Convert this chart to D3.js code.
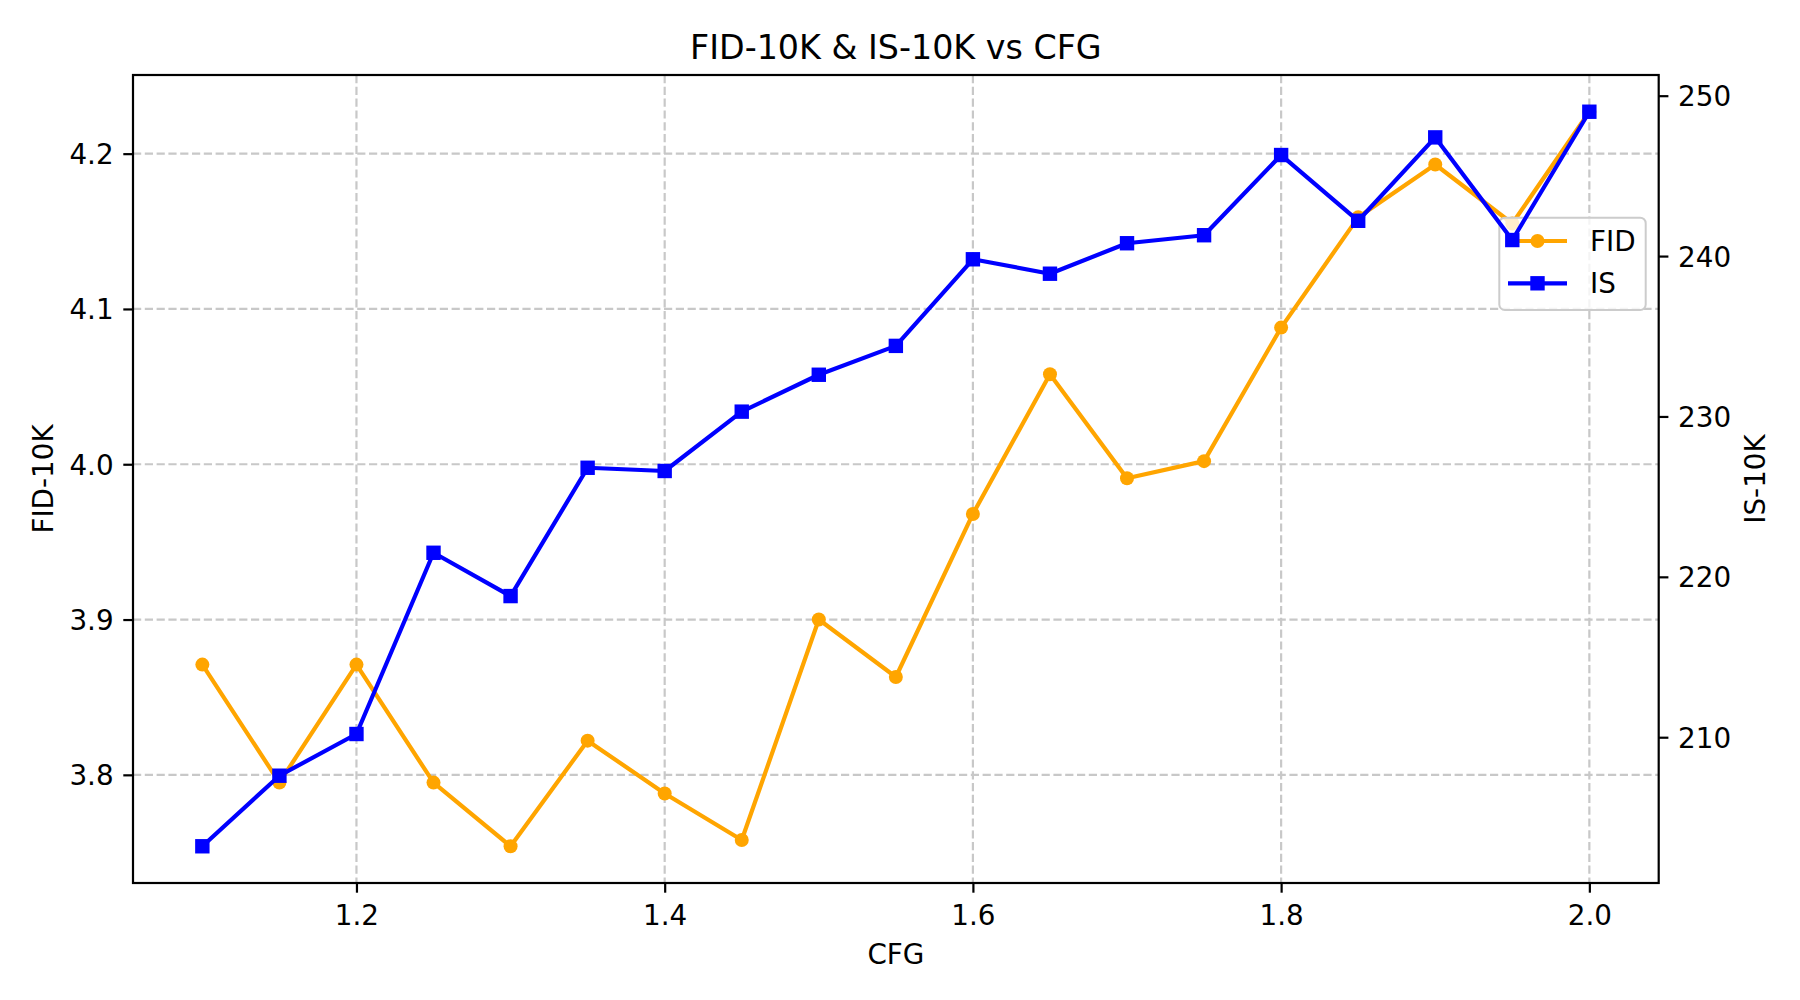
<!DOCTYPE html>
<html>
<head>
<meta charset="utf-8">
<script src="https://cdn.jsdelivr.net/npm/d3@7"></script>
<style>
  html, body { margin: 0; padding: 0; background: #fff; }
  svg { display: block; font-family: "DejaVu Sans", sans-serif; }
</style>
</head>
<body>
<svg id="chart" width="1800" height="1000"></svg>
<script>
// ---- data ----
const cfg = [1.1, 1.15, 1.2, 1.25, 1.3, 1.35, 1.4, 1.45, 1.5, 1.55, 1.6, 1.65, 1.7, 1.75, 1.8, 1.85, 1.9, 1.95, 2.0];
const fid = [3.871, 3.795, 3.871, 3.795, 3.754, 3.822, 3.788, 3.758, 3.900, 3.863, 3.968, 4.058, 3.991, 4.002, 4.088, 4.159, 4.193, 4.155, 4.227];
const isScore = [203.2, 207.6, 210.2, 221.5, 218.8, 226.8, 226.6, 230.3, 232.6, 234.4, 239.8, 238.9, 240.8, 241.3, 246.3, 242.2, 247.4, 241.0, 249.0];
const xTicks = [1.2, 1.4, 1.6, 1.8, 2.0];
const fidTicks = [3.8, 3.9, 4.0, 4.1, 4.2];
const isTicks = [210, 220, 230, 240, 250];
const seriesNames = ["FID", "IS"];
const titleText = "FID-10K & IS-10K vs CFG";
const xLabel = "CFG";
const yLeftLabel = "FID-10K";
const yRightLabel = "IS-10K";

// ---- layout ----
const L = 133, R = 1658.7, T = 75, B = 883;
const svg = d3.select("#chart");
const FS = 27.8, TFS = 33.3;
const tickLen = 9.7, tickPad = 9.7, spineW = 2.2;
const ORANGE = "#FFA500", BLUE = "#0000FF";

function padded(ext) { const r = ext[1] - ext[0]; return [ext[0] - 0.05 * r, ext[1] + 0.05 * r]; }

const x = d3.scaleLinear().domain(padded(d3.extent(cfg))).range([L, R]);
const yF = d3.scaleLinear().domain(padded(d3.extent(fid))).range([B, T]);
const yI = d3.scaleLinear().domain(padded(d3.extent(isScore))).range([B, T]);

// grid
const grid = svg.append("g").attr("stroke", "#c8c8c8").attr("stroke-width", 2.2).attr("stroke-dasharray", "8.2,3.6");
grid.selectAll("line.v").data(xTicks).join("line")
  .attr("x1", d => x(d)).attr("x2", d => x(d)).attr("y1", T).attr("y2", B);
grid.selectAll("line.h").data(fidTicks).join("line")
  .attr("x1", L).attr("x2", R).attr("y1", d => yF(d)).attr("y2", d => yF(d));

// FID line (ax1)
svg.append("path").datum(cfg.map((c, i) => [c, fid[i]]))
  .attr("fill", "none").attr("stroke", ORANGE).attr("stroke-width", 4.2).attr("stroke-linejoin", "round")
  .attr("d", d3.line().x(d => x(d[0])).y(d => yF(d[1])));
svg.append("g").selectAll("circle").data(cfg.map((c, i) => [c, fid[i]])).join("circle")
  .attr("cx", d => x(d[0])).attr("cy", d => yF(d[1])).attr("r", 7).attr("fill", ORANGE);

// legend (ax1)
const lg = svg.append("g");
lg.append("rect").attr("x", 1499.3).attr("y", 217.7).attr("width", 146.4).attr("height", 92.3)
  .attr("rx", 5.5).attr("ry", 5.5).attr("fill", "white").attr("fill-opacity", 0.8)
  .attr("stroke", "#cccccc").attr("stroke-width", 2);
const legendRows = [{ name: seriesNames[0], color: ORANGE, shape: "circle", y: 241 },
                    { name: seriesNames[1], color: BLUE, shape: "square", y: 283.3 }];
legendRows.forEach(r => {
  lg.append("line").attr("x1", 1508).attr("x2", 1567).attr("y1", r.y).attr("y2", r.y)
    .attr("stroke", r.color).attr("stroke-width", 4.2);
  if (r.shape === "circle") lg.append("circle").attr("cx", 1537.5).attr("cy", r.y).attr("r", 7).attr("fill", r.color);
  else lg.append("rect").attr("x", 1537.5 - 7.2).attr("y", r.y - 7.2).attr("width", 14.4).attr("height", 14.4).attr("fill", r.color);
  lg.append("text").attr("x", 1590).attr("y", r.y + 10).attr("font-size", FS).attr("fill", "#000").text(r.name);
});

// IS line (ax2)
svg.append("path").datum(cfg.map((c, i) => [c, isScore[i]]))
  .attr("fill", "none").attr("stroke", BLUE).attr("stroke-width", 4.2).attr("stroke-linejoin", "round")
  .attr("d", d3.line().x(d => x(d[0])).y(d => yI(d[1])));
svg.append("g").selectAll("rect").data(cfg.map((c, i) => [c, isScore[i]])).join("rect")
  .attr("x", d => x(d[0]) - 7.2).attr("y", d => yI(d[1]) - 7.2).attr("width", 14.4).attr("height", 14.4).attr("fill", BLUE);

// axes
function styleAxis(g) {
  g.select(".domain").remove();
  g.selectAll(".tick line").attr("stroke", "#000").attr("stroke-width", spineW);
  g.selectAll(".tick text").attr("font-size", FS).attr("fill", "#000").attr("font-family", "DejaVu Sans");
}
svg.append("g").attr("transform", `translate(0,${B})`)
  .call(d3.axisBottom(x).tickValues(xTicks).tickFormat(d3.format(".1f")).tickSize(tickLen).tickPadding(tickPad + 1.5))
  .call(styleAxis)
  .call(g => g.selectAll(".tick text").attr("dy", "0.76em"));
svg.append("g").attr("transform", `translate(${L},0)`)
  .call(d3.axisLeft(yF).tickValues(fidTicks).tickFormat(d3.format(".1f")).tickSize(tickLen).tickPadding(tickPad))
  .call(styleAxis)
  .call(g => g.selectAll(".tick text").attr("dy", "0.36em"));
svg.append("g").attr("transform", `translate(${R},0)`)
  .call(d3.axisRight(yI).tickValues(isTicks).tickFormat(d3.format("d")).tickSize(tickLen).tickPadding(tickPad))
  .call(styleAxis)
  .call(g => g.selectAll(".tick text").attr("dy", "0.36em"));

// spines
svg.append("rect").attr("x", L).attr("y", T).attr("width", R - L).attr("height", B - T)
  .attr("fill", "none").attr("stroke", "#000").attr("stroke-width", spineW);

// labels
svg.append("text").attr("x", (L + R) / 2).attr("y", 59).attr("text-anchor", "middle")
  .attr("font-size", TFS).attr("fill", "#000").text(titleText);
svg.append("text").attr("x", (L + R) / 2).attr("y", 964).attr("text-anchor", "middle")
  .attr("font-size", FS).attr("fill", "#000").text(xLabel);
svg.append("text").attr("transform", `translate(53,${(T + B) / 2}) rotate(-90)`).attr("text-anchor", "middle")
  .attr("font-size", FS).attr("fill", "#000").text(yLeftLabel);
svg.append("text").attr("transform", `translate(1765,${(T + B) / 2}) rotate(-90)`).attr("text-anchor", "middle")
  .attr("font-size", FS).attr("fill", "#000").text(yRightLabel);
</script>
</body>
</html>
